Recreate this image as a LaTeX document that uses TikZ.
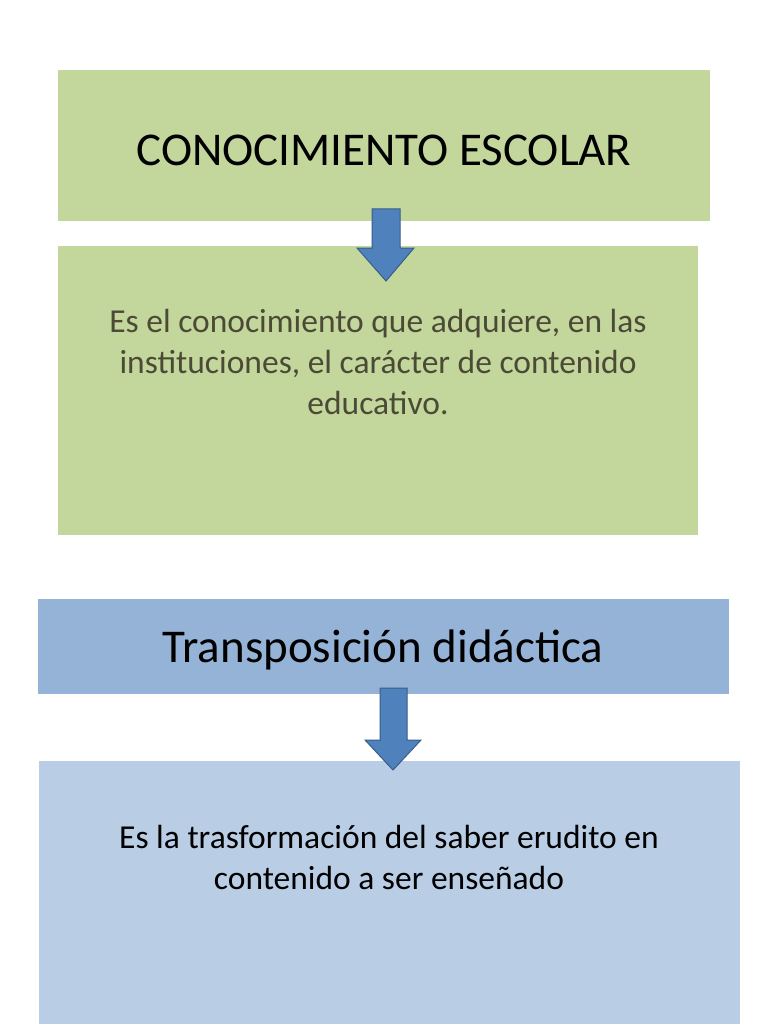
\documentclass[tikz,border=0pt]{standalone}
\usepackage{fontspec}
\setmainfont{Carlito}
\definecolor{gA}{HTML}{C3D69B}
\definecolor{bA}{HTML}{95B3D7}
\definecolor{bB}{HTML}{B9CDE5}
\definecolor{arF}{HTML}{4F81BD}
\definecolor{arD}{HTML}{385D8A}
\definecolor{txG}{HTML}{4A4A36}
\begin{document}
\begin{tikzpicture}[x=1pt,y=-1pt,
  boxA/.style={fill=gA,draw=none},
  boxB/.style={fill=bA,draw=none},
  boxC/.style={fill=bB,draw=none},
  bodytext/.style={align=center,font=\fontsize{33.5}{41}\selectfont},
  downarrow/.style={fill=arF,draw=arD,line width=1pt}]
\useasboundingbox (0,0) rectangle (768,1024);
\fill[white] (0,0) rectangle (768,1024);
\fill[boxA] (58,70) rectangle (710,221);
\fill[boxA] (58,246) rectangle (698,535);
\fill[boxB] (38,599) rectangle (729,694);
\fill[boxC] (39,761) rectangle (740,1024);
\node[font=\fontsize{47}{54}\selectfont] (t1) at (384,150) {CONOCIMIENTO ESCOLAR};
\node[bodytext,text=txG] (t2) at (378,362) {Es el conocimiento que adquiere, en las\\ instituciones, el carácter de contenido\\ educativo.};
\node[font=\fontsize{47}{54}\selectfont] (t3) at (383,650) {Transposición didáctica};
\node[bodytext] (t4) at (389,857) {Es la trasformación del saber erudito en\\ contenido a ser enseñado};
\draw[downarrow] (372,209) -- (400,209) -- (400,248) -- (414,248) -- (386,281) -- (357,248) -- (372,248) -- cycle;
\draw[downarrow] (380,688) -- (407,688) -- (407,740) -- (421,740) -- (393,770) -- (365,740) -- (380,740) -- cycle;
\end{tikzpicture}
\end{document}
